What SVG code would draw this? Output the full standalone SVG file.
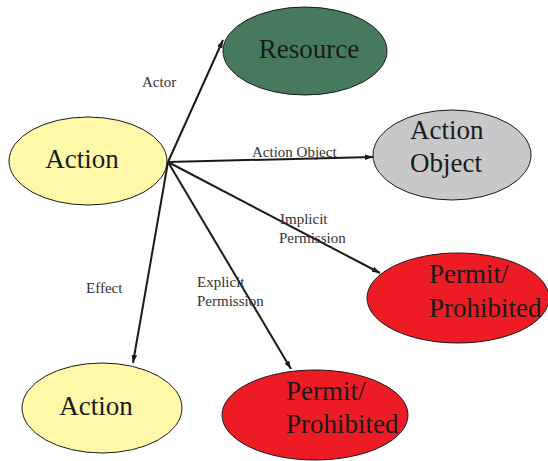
<svg xmlns="http://www.w3.org/2000/svg" width="548" height="461" viewBox="0 0 548 461">
<defs>
<marker id="ah" viewBox="0 0 10 10" refX="10" refY="5" markerWidth="8" markerHeight="8" markerUnits="userSpaceOnUse" orient="auto">
<path d="M0,1.5 L10,5 L0,8.5 z" fill="#1a1a1a"/>
</marker>
</defs>
<style>
.n{stroke:#1a1a1a;stroke-width:1}
text{font-family:'Liberation Serif','Times New Roman','DejaVu Serif',serif}
.big{font-size:27px;fill:#1a1a1a}
.lbl{font-size:15px;fill:#333}
.c{stroke:#1a1a1a;stroke-width:2;fill:none;marker-end:url(#ah)}
</style>
<rect width="548" height="461" fill="#fff"/>
<g id="resource"><ellipse class="n" cx="305" cy="51" rx="82" ry="44" fill="#477a5c"/><text class="big" x="309" y="58" text-anchor="middle">Resource</text></g>
<g id="action1"><ellipse class="n" cx="88" cy="161" rx="79" ry="44" fill="#fff8a8"/><text class="big" x="82" y="168" text-anchor="middle">Action</text></g>
<g id="actionobject"><ellipse class="n" cx="452" cy="155" rx="79" ry="45" fill="#c8c8ca"/><text class="big" x="410" y="139">Action</text><text class="big" x="410" y="172">Object</text></g>
<g id="permit1"><ellipse class="n" cx="458" cy="298" rx="91" ry="45" fill="#ed1c24"/><text class="big" x="429" y="283">Permit/</text><text class="big" x="429" y="317">Prohibited</text></g>
<g id="permit2"><ellipse class="n" cx="315" cy="415" rx="93" ry="45" fill="#ed1c24"/><text class="big" x="286" y="400">Permit/</text><text class="big" x="286" y="433">Prohibited</text></g>
<g id="action2"><ellipse class="n" cx="102" cy="408" rx="80" ry="45" fill="#fff8a8"/><text class="big" x="96" y="415" text-anchor="middle">Action</text></g>
<g id="connectors">
<line class="c" x1="168" y1="162" x2="223" y2="40"/>
<line class="c" x1="168" y1="162" x2="373" y2="157"/>
<line class="c" x1="168" y1="162" x2="380" y2="273"/>
<line class="c" x1="168" y1="162" x2="291" y2="369"/>
<line class="c" x1="168" y1="162" x2="133" y2="363"/>
<text class="lbl" x="142" y="87">Actor</text>
<text class="lbl" x="252" y="157">Action Object</text>
<text class="lbl" x="280" y="224">Implicit</text>
<text class="lbl" x="279" y="243">Permission</text>
<text class="lbl" x="86" y="293">Effect</text>
<text class="lbl" x="197" y="287">Explicit</text>
<text class="lbl" x="197" y="306">Permission</text>
</g>
</svg>
